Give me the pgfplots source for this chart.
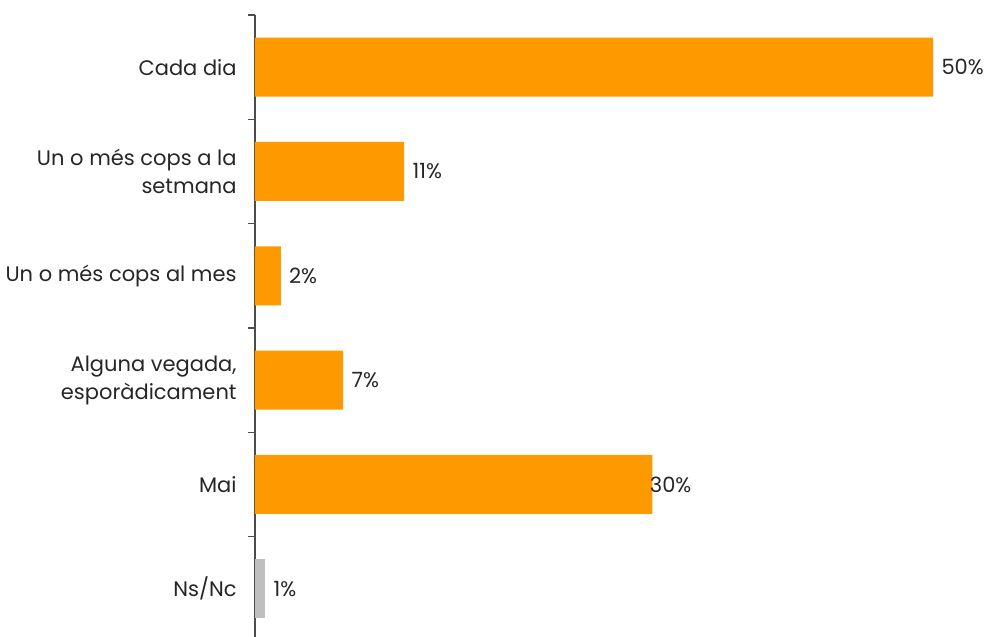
\documentclass[border=0pt]{standalone}
\usepackage{pgfplots}
\pgfplotsset{compat=1.18}
\usepackage{fontspec}
\setmainfont{Poppins}
\definecolor{barorange}{RGB}{255,153,0}
\definecolor{bargray}{RGB}{191,191,191}
\begin{document}
\begin{tikzpicture}
\begin{axis}[
  name=ax,
  scale only axis,
  width=365.5pt, height=313pt,
  xmin=0, xmax=53.9,
  ymin=0.5, ymax=6.5,
  y dir=reverse,
  axis x line=none,
  axis y line*=left,
  y axis line style={draw=black!70, line width=0.6pt},
  ytick={1,2,3,4,5,6},
  yticklabels={Cada dia, {Un o més cops a la\\setmana}, Un o més cops al mes, {Alguna vegada,\\esporàdicament}, Mai, Ns/Nc},
  minor ytick={0.5,1.5,2.5,3.5,4.5,5.5,6.5},
  major tick length=0pt,
  minor tick length=3.5pt,
  tick align=outside,
  tick style={draw=black!70, line width=0.6pt},
  yticklabel style={align=right, font=\fontsize{10.5}{14}\selectfont, text=black!85, inner sep=0pt, xshift=-9pt},
  clip=false,
  bar width=29.5pt,
]
\addplot[xbar, fill=barorange, draw=none] coordinates {(50,1) (11.0,2) (1.9,3) (6.5,4) (29.3,5)};
\addplot[xbar, fill=bargray, draw=none] coordinates {(0.75,6)};
\addplot[only marks, mark=none, nodes near coords, point meta=explicit symbolic,
  nodes near coords style={anchor=west, xshift=4pt, inner sep=0pt, font=\fontsize{10.5}{14}\selectfont, text=black!85}]
  table[meta=lab] {
x y lab
50 1 50\%
11.0 2 11\%
1.9 3 2\%
6.5 4 7\%
28.5 5 30\%
0.75 6 1\%
};
\end{axis}
\pgfresetboundingbox
\path[use as bounding box] ([xshift=-127.5pt,yshift=2pt]ax.south west) rectangle ([yshift=7.5pt]ax.north east);
\end{tikzpicture}
\end{document}
